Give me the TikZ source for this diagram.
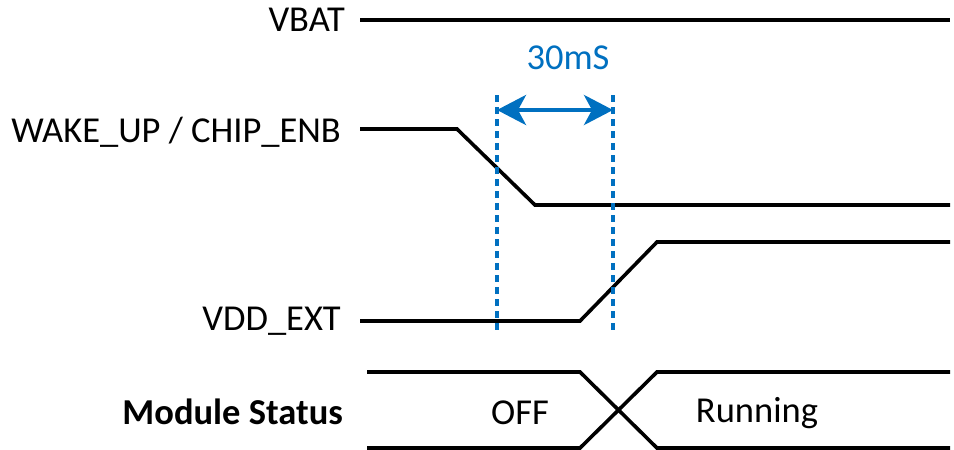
\documentclass[tikz,border=0pt]{standalone}
\usepackage{fontspec}
\setmainfont{Carlito}
\usetikzlibrary{arrows.meta}
\definecolor{obl}{HTML}{0070C0}
\begin{document}
\begin{tikzpicture}[x=1pt,y=-1pt,
  sig/.style={line width=3.6pt,line join=miter,black},
  lbl/.style={anchor=east,font=\fontsize{36.5}{40}\selectfont,inner sep=0pt},
  stat/.style={font=\fontsize{36.5}{40}\selectfont,inner sep=0pt},
  marker/.style={obl,line width=3.4pt,dash pattern=on 7pt off 5pt},
  dim/.style={obl,line width=4pt,{Stealth[length=29pt,width=30pt,inset=8pt]}-{Stealth[length=29pt,width=30pt,inset=8pt]}}]
\useasboundingbox (0,0) rectangle (954,450);
% labels
\node[lbl] (vbat) at (345,20) {VBAT};
\node[lbl] (wake) at (341,132) {WAKE\_UP / CHIP\_ENB};
\node[lbl] (vdd) at (341,321) {VDD\_EXT};
\node[lbl,font=\fontsize{36.5}{40}\selectfont\bfseries] (mod) at (343,412) {Module Status};
\node[stat] (off) at (520,413) {OFF};
\node[stat] (run) at (757,413) {Running};
\node[stat,text=obl] (t30) at (568,58) {30mS};
% coordinates
\coordinate (v0) at (360,20);  \coordinate (v1) at (950,20);
\coordinate (w0) at (360,129); \coordinate (w1) at (457,129); \coordinate (w2) at (535,205); \coordinate (w3) at (950,205);
\coordinate (d0) at (360,321); \coordinate (d1) at (580,321); \coordinate (d2) at (657,242); \coordinate (d3) at (950,242);
\coordinate (st0) at (367,372); \coordinate (st1) at (580,372); \coordinate (st2) at (657,448); \coordinate (st3) at (950,448);
\coordinate (sb0) at (367,448); \coordinate (sb1) at (580,448); \coordinate (sb2) at (657,372); \coordinate (sb3) at (950,372);
\coordinate (m1a) at (497,95);  \coordinate (m1b) at (497,334);
\coordinate (m2a) at (613,95);  \coordinate (m2b) at (613,334);
\coordinate (a1) at (497,110); \coordinate (a2) at (613,110);
% signals
\draw[sig] (v0) -- (v1);
\draw[sig] (w0) -- (w1) -- (w2) -- (w3);
\draw[sig] (d0) -- (d1) -- (d2) -- (d3);
\draw[sig] (st0) -- (st1) -- (st2) -- (st3);
\draw[sig] (sb0) -- (sb1) -- (sb2) -- (sb3);
% markers
\draw[marker] (m1a) -- (m1b);
\draw[marker] (m2a) -- (m2b);
\draw[dim] (a1) -- (a2);
\end{tikzpicture}
\end{document}
